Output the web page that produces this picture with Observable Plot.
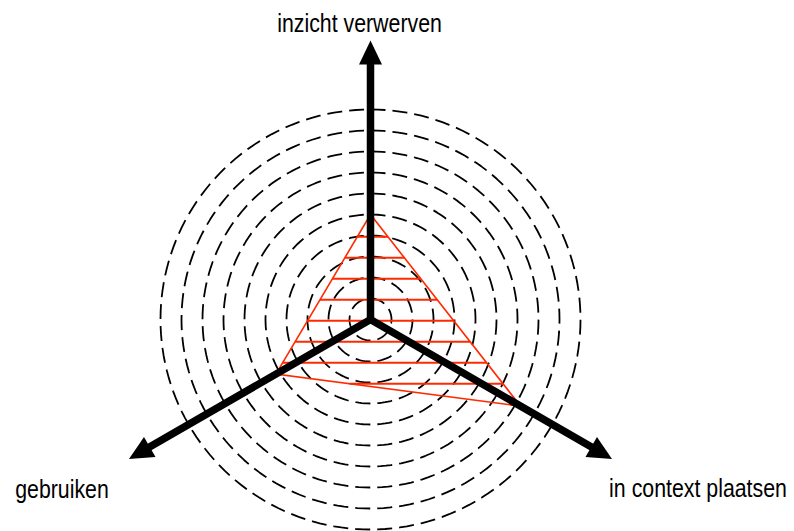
<!DOCTYPE html>
<html><head><meta charset="utf-8">
<script src="https://cdn.jsdelivr.net/npm/d3@7"></script>
<script src="https://cdn.jsdelivr.net/npm/@observablehq/plot@0.6"></script>
<style>
html,body{margin:0;padding:0;background:#fff;}
#chart svg{display:block;}
</style>
</head><body><div id="chart"></div>
<script>
// ---- data ----
const axes = ["inzicht verwerven", "gebruiken", "in context plaatsen"];
const angles = [90, 210, 330];          // axis direction, degrees (counter-clockwise from east)
const values = [5, 5.2, 8.25];          // score on each axis
const ringLevels = [1, 2, 3, 4, 5, 6, 7, 8, 9, 10];

// ---- layout / style constants ----
const W = 794, H = 531;
const unit = 21;                  // px per level
const cx = 370, cy = 319;         // centre in px
const arrowLen = 13.28;           // levels
const headLen = 24 / unit, headHalf = 11.5 / unit;
const red = "#ff2a00";
const narrow = 0.82;              // horizontal condensing of label text
const labelOffsets = [
  {dx: -11, dy: -9},
  {dx: -67, dy: 39},
  {dx: 86, dy: 38}
];

const rad = d => d * Math.PI / 180;
const pt = (a, r) => [r * Math.cos(rad(a)), r * Math.sin(rad(a))];

// rings
const ringPts = [];
for (const k of ringLevels) for (let i = 0; i <= 360; i += 2) {
  const [x, y] = pt(90 - i, k); ringPts.push({k, x, y});
}

// arrow shafts and heads
const shaftEnd = arrowLen - headLen * 0.8;
const vShaft = [{x1: 0, y1: 0, x2: pt(angles[0], shaftEnd)[0], y2: pt(angles[0], shaftEnd)[1]}];
const lowShaft = [pt(angles[1], shaftEnd), [0, 0], pt(angles[2], shaftEnd)].map(([x, y]) => ({x, y}));
const heads = [];
angles.forEach((a, i) => {
  const tip = pt(a, arrowLen), base = pt(a, arrowLen - headLen);
  const px = Math.cos(rad(a + 90)) * headHalf, py = Math.sin(rad(a + 90)) * headHalf;
  heads.push({z: i, x: tip[0], y: tip[1]});
  heads.push({z: i, x: base[0] + px, y: base[1] + py});
  heads.push({z: i, x: base[0] - px, y: base[1] - py});
});

// score triangle
const tri = values.map((v, i) => pt(angles[i], v));
const triPts = tri.map(([x, y]) => ({x, y}));

// horizontal hatching inside the triangle
const hatchOffset = -0.06;
const hatch = [];
for (let h = -12; h <= 12; h++) {
  const yy = h + hatchOffset, xs = [];
  for (let i = 0; i < 3; i++) {
    const [x1, y1] = tri[i], [x2, y2] = tri[(i + 1) % 3];
    if ((y1 - yy) * (y2 - yy) < 0) xs.push(x1 + (yy - y1) / (y2 - y1) * (x2 - x1));
  }
  if (xs.length === 2) hatch.push({y: yy, x1: Math.min(...xs), x2: Math.max(...xs)});
}

const labels = axes.map((name, i) => {
  const [x, y] = pt(angles[i], arrowLen);
  return {name, x, y, i};
});

const font = "'Liberation Sans Narrow', 'Arial Narrow', 'Liberation Sans', Arial, sans-serif";

const plot = Plot.plot({
  width: W, height: H,
  margin: 0,
  x: {domain: [-cx / unit, (W - cx) / unit], range: [0, W], axis: null},
  y: {domain: [-(H - cy) / unit, cy / unit], range: [H, 0], axis: null},
  style: {background: "white"},
  marks: [
    Plot.line(ringPts, {x: "x", y: "y", z: "k", stroke: "black", strokeWidth: 1.8,
      strokeDasharray: "15,7", strokeLinecap: "butt", curve: "linear-closed"}),
    Plot.link(hatch, {x1: "x1", x2: "x2", y1: "y", y2: "y", stroke: red, strokeWidth: 2}),
    Plot.line(triPts, {x: "x", y: "y", stroke: red, strokeWidth: 1.6, curve: "linear-closed",
      strokeLinejoin: "miter", strokeMiterlimit: 10}),
    Plot.link(vShaft, {x1: "x1", y1: "y1", x2: "x2", y2: "y2", stroke: "black", strokeWidth: 7.5,
      strokeLinecap: "butt"}),
    Plot.line(lowShaft, {x: "x", y: "y", stroke: "black", strokeWidth: 7.5, strokeLinecap: "butt",
      strokeLinejoin: "miter", strokeMiterlimit: 4}),
    Plot.line(heads, {x: "x", y: "y", z: "z", fill: "black", stroke: "none", curve: "linear-closed"}),
    ...labels.map(l => Plot.text([l], {x: "x", y: "y", text: "name", textAnchor: "middle",
      lineAnchor: "bottom", dx: labelOffsets[l.i].dx, dy: labelOffsets[l.i].dy,
      fontSize: 26, fontFamily: font, fill: "black", className: "axis-label"}))
  ]
});
document.getElementById("chart").appendChild(plot);
// condense label glyphs horizontally (narrow typeface look)
plot.querySelectorAll("g.axis-label text, .axis-label text").forEach(t => {
  const w = t.getComputedTextLength();
  t.setAttribute("textLength", (w * narrow).toFixed(1));
  t.setAttribute("lengthAdjust", "spacingAndGlyphs");
});
</script>
</body></html>
